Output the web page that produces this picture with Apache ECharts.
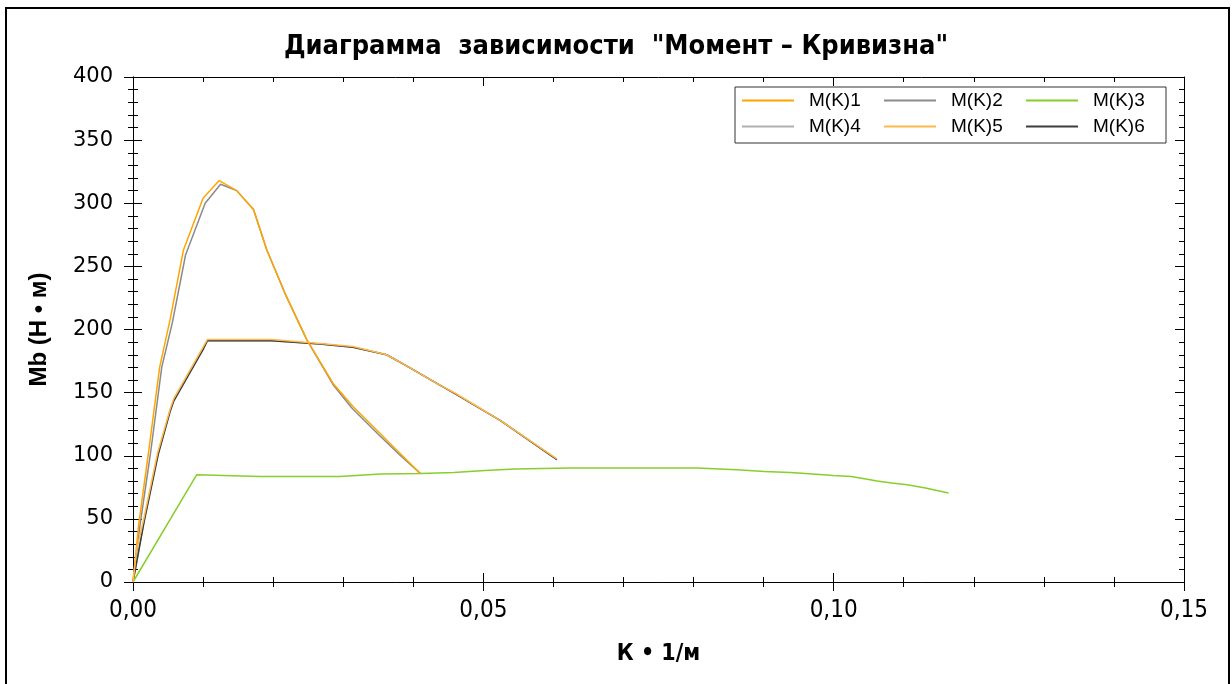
<!DOCTYPE html>
<html>
<head>
    <meta charset="utf-8">
    <title>Момент – Кривизна</title>
    <script src="https://cdn.jsdelivr.net/npm/echarts@6/dist/echarts.min.js"></script>
    <style>
        html, body { margin: 0; padding: 0; background: #fff; }
        #chart { width: 1232px; height: 684px; }
    </style>
</head>
<body>
<div id="chart"></div>
<script>
    // подписи осей
    var xTickLabels = ['0,00', '0,05', '0,10', '0,15'];
    var yTickLabels = ['0', '50', '100', '150', '200', '250', '300', '350', '400'];
    var seriesNames = ['M(K)1', 'M(K)2', 'M(K)3', 'M(K)4', 'M(K)5', 'M(K)6'];

    // [K, Mb]
    var mk1 = [[0, 0], [0.0008, 45], [0.0022, 102], [0.0038, 170], [0.0053, 208], [0.0072, 263], [0.0100, 304],
        [0.0123, 318], [0.0148, 310], [0.0172, 295], [0.0191, 263], [0.0219, 226], [0.0248, 192], [0.0286, 157],
        [0.0314, 139], [0.0352, 118], [0.0381, 102], [0.0410, 86]];
    var mk2 = [[0, 0], [0.0010, 45], [0.0025, 102], [0.0041, 170], [0.0056, 205], [0.0075, 259], [0.0103, 300],
        [0.0125, 315], [0.0148, 310], [0.0172, 295], [0.0191, 263], [0.0219, 226], [0.0248, 192], [0.0286, 156],
        [0.0312, 138], [0.0350, 117], [0.0380, 101], [0.0410, 86]];
    var mk3 = [[0, 0], [0.0091, 85], [0.0181, 83.5], [0.0295, 83.5], [0.0353, 85.5], [0.0410, 86], [0.0458, 86.7],
        [0.0502, 88.3], [0.0545, 89.6], [0.0624, 90.2], [0.0804, 90.2], [0.0862, 89], [0.0901, 87.5], [0.0938, 86.7],
        [0.0970, 85.6], [0.0999, 84.3], [0.1025, 83.6], [0.1046, 81.5], [0.1062, 80], [0.1083, 78.5], [0.1105, 77],
        [0.1131, 74.5], [0.1164, 70.5]];
    var mk4 = [[0, 0], [0.0016, 49], [0.0036, 102], [0.0053, 136], [0.0058, 144], [0.0100, 185], [0.0106, 191],
        [0.0198, 191], [0.0267, 188.5], [0.0314, 186], [0.0362, 180], [0.0391, 171], [0.0438, 156], [0.0460, 149],
        [0.0524, 128], [0.0605, 97]];
    var mk5 = [[0, 0], [0.0005, 25], [0.0015, 49], [0.0035, 102], [0.0053, 137], [0.0058, 145], [0.0100, 186],
        [0.0106, 192], [0.0198, 192], [0.0267, 189], [0.0314, 186.5], [0.0362, 180], [0.0391, 171], [0.0438, 156],
        [0.0460, 149.5], [0.0524, 128], [0.0605, 97.5]];
    var mk6 = [[0, 0], [0.0016, 48], [0.0036, 101], [0.0053, 135], [0.0058, 143], [0.0100, 184], [0.0106, 191],
        [0.0198, 191], [0.0267, 188.5], [0.0314, 186], [0.0362, 180], [0.0391, 171], [0.0438, 156], [0.0460, 149],
        [0.0524, 128], [0.0605, 97]];

    var colors = {
        'M(K)1': '#ffa500', 'M(K)2': '#8a8a8a', 'M(K)3': '#86cf2a',
        'M(K)4': '#b0b0b0', 'M(K)5': '#ffb84a', 'M(K)6': '#3c3c3c'
    };

    var narrow = "'Liberation Sans Narrow', 'Arial Narrow', 'DejaVu Sans Condensed', sans-serif";
    var plain = "'Liberation Sans', Arial, sans-serif";

    function xAx(pos, inside, showLabel) {
        return {
            type: 'value', position: pos, min: 0, max: 0.15, interval: 0.05,
            axisLine: {show: true, onZero: false, lineStyle: {color: '#000', width: 1}},
            axisTick: {show: true, inside: inside, length: 9, lineStyle: {color: '#000'}},
            minorTick: {show: true, splitNumber: 5, length: 5, lineStyle: {color: '#000'}},
            splitLine: {show: false},
            axisLabel: {
                show: showLabel, margin: 17, color: '#000', fontSize: 24, fontFamily: narrow,
                formatter: function (v) { return xTickLabels[Math.round(v / 0.05)]; }
            }
        };
    }

    function yAx(pos, inside, showLabel) {
        return {
            type: 'value', position: pos, min: 0, max: 400, interval: 50,
            axisLine: {show: true, onZero: false, lineStyle: {color: '#000', width: 1}},
            axisTick: {show: true, inside: inside, length: 9, lineStyle: {color: '#000'}},
            minorTick: {show: true, splitNumber: 5, length: 5, lineStyle: {color: '#000'}},
            splitLine: {show: false},
            axisLabel: {
                show: showLabel, margin: 20, color: '#000', fontSize: 21, fontFamily: "'DejaVu Sans', sans-serif",
                formatter: function (v) { return yTickLabels[Math.round(v / 50)]; }
            }
        };
    }

    var xAxes = [xAx('bottom', false, true), xAx('bottom', true, false), xAx('top', true, false)];
    xAxes[0].name = 'К • 1/м';
    xAxes[0].nameLocation = 'middle';
    xAxes[0].nameGap = 61;
    xAxes[0].nameTextStyle = {color: '#000', fontSize: 23, fontWeight: 'bold', fontFamily: narrow};

    var yAxes = [yAx('left', false, true), yAx('left', true, false), yAx('right', true, false)];
    yAxes[0].name = 'Mb (Н • м)';
    yAxes[0].nameLocation = 'middle';
    yAxes[0].nameGap = 82;
    yAxes[0].nameTextStyle = {color: '#000', fontSize: 24, fontWeight: 'bold', fontFamily: plain};

    // порядок отрисовки: серые и тёмная снизу, оранжевые сверху
    var drawOrder = [['M(K)2', mk2], ['M(K)4', mk4], ['M(K)6', mk6], ['M(K)3', mk3], ['M(K)1', mk1], ['M(K)5', mk5]];
    var series = drawOrder.map(function (s) {
        return {
            name: s[0], type: 'line', data: s[1], showSymbol: false, symbol: 'none',
            xAxisIndex: 0, yAxisIndex: 0,
            lineStyle: {color: colors[s[0]], width: 1.5},
            itemStyle: {color: colors[s[0]]}
        };
    });

    var chart = echarts.init(document.getElementById('chart'));
    chart.setOption({
        animation: false,
        title: {
            text: 'Диаграмма  зависимости  "Момент – Кривизна"',
            left: 'center', top: 28,
            textStyle: {color: '#000', fontSize: 27, fontWeight: 'bold', fontFamily: narrow}
        },
        legend: {
            data: seriesNames,
            left: 735, top: 87, width: 420,
            padding: [4, 5, 7, 7],
            itemWidth: 52, itemHeight: 2, itemGap: 7,
            icon: 'rect',
            borderColor: '#333', borderWidth: 1,
            textStyle: {
                color: '#000', fontSize: 19, fontFamily: plain, lineHeight: 14,
                width: 68, padding: [0, 0, 0, 10]
            }
        },
        grid: {left: 133, right: 48, top: 77, bottom: 102},
        xAxis: xAxes,
        yAxis: yAxes,
        graphic: [{
            type: 'rect', shape: {x: 6, y: 8, width: 1223, height: 700},
            style: {fill: 'none', stroke: '#000', lineWidth: 2}, silent: true
        }],
        series: series
    });
</script>
</body>
</html>
